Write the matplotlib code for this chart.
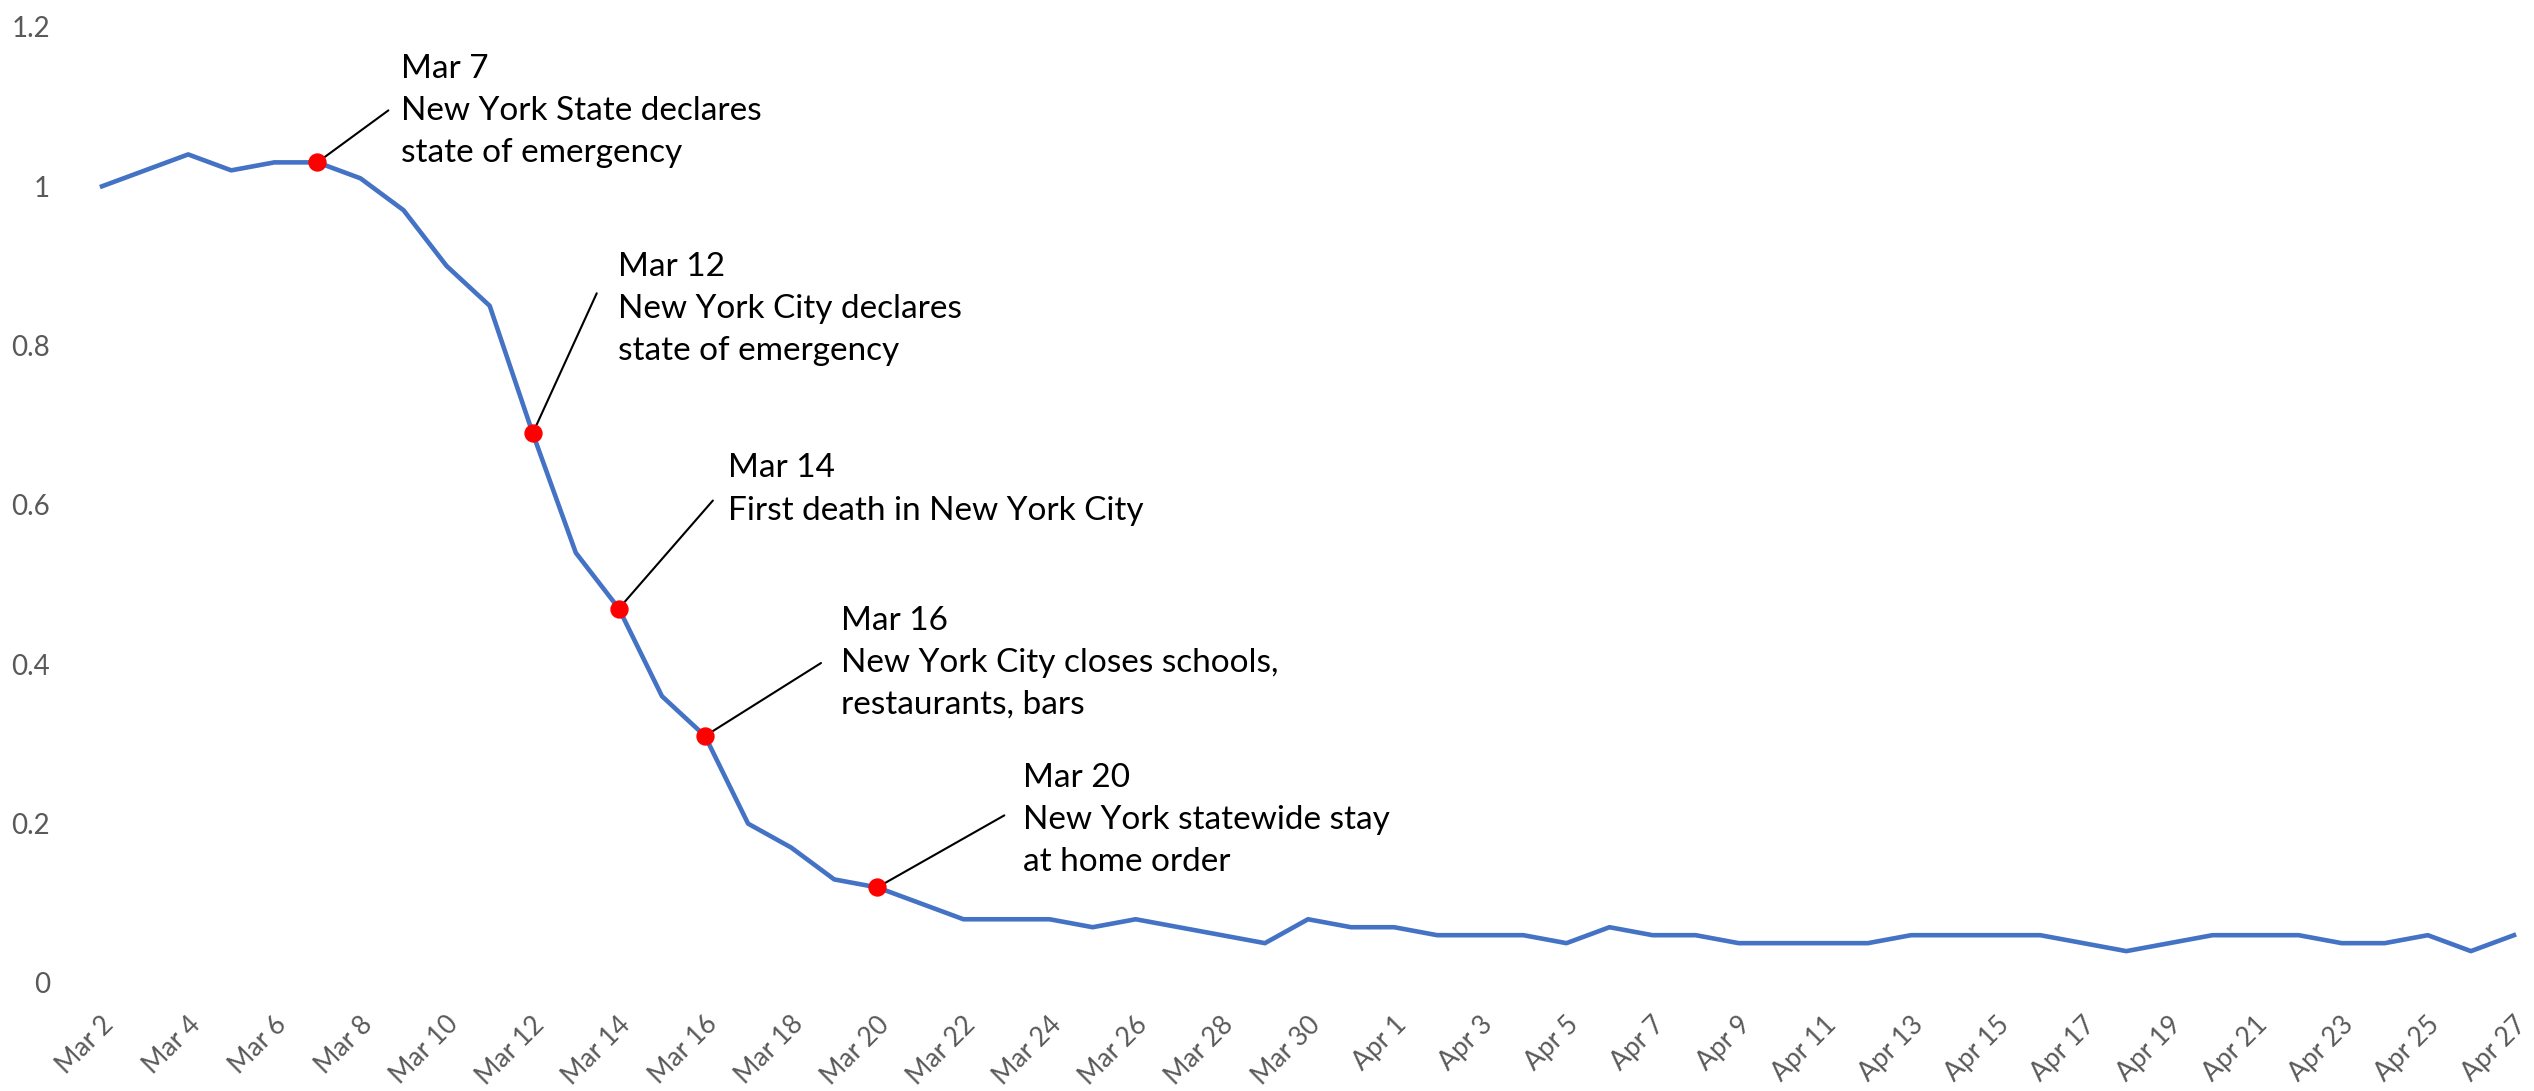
import pandas as pd
from matplotlib import pyplot as plt
from matplotlib.transforms import ScaledTranslation

days = pd.date_range("2020-03-02", "2020-04-27", freq="D")
day_labels = [f"{d:%b} {d.day}" for d in days]

ratio = [1.00, 1.02, 1.04, 1.02, 1.03, 1.03, 1.01, 0.97, 0.90, 0.85,
         0.69, 0.54, 0.47, 0.36, 0.31, 0.20, 0.17, 0.13, 0.12, 0.10,
         0.08, 0.08, 0.08, 0.07, 0.08, 0.07, 0.06, 0.05, 0.08, 0.07,
         0.07, 0.06, 0.06, 0.06, 0.05, 0.07, 0.06, 0.06, 0.05, 0.05,
         0.05, 0.05, 0.06, 0.06, 0.06, 0.06, 0.05, 0.04, 0.05, 0.06,
         0.06, 0.06, 0.05, 0.05, 0.06, 0.04, 0.06]

y_ticks = [0, 0.2, 0.4, 0.6, 0.8, 1.0, 1.2]
y_tick_labels = ["0", "0.2", "0.4", "0.6", "0.8", "1", "1.2"]

event_days = ["Mar 7", "Mar 12", "Mar 14", "Mar 16", "Mar 20"]
event_texts = [
    "New York State declares\nstate of emergency",
    "New York City declares\nstate of emergency",
    "First death in New York City",
    "New York City closes schools,\nrestaurants, bars",
    "New York statewide stay\nat home order",
]
# (text dx, first baseline dy, line dx, line dy) in pixels from the marker
event_offsets = [(84, 90, 71, 52), (85, 163, 64, 140), (109, 134, 94, 108),
                 (136, 112, 116, 73), (146, 106, 127, 72)]
line_pitch = 45  # px between text baselines

plt.rcParams["font.family"] = ["Lato", "DejaVu Sans"]

fig = plt.figure(figsize=(25.34, 10.91), dpi=100)
ax = fig.add_axes([80.5 / 2534, 0.099, 2455 / 2534, 0.8763])

x = list(range(len(ratio)))
ax.plot(x, ratio, color="#4472C4", lw=3.3, solid_joinstyle="round", zorder=2)

for name, txt, (tdx, tdy, ldx, ldy) in zip(event_days, event_texts, event_offsets):
    i = day_labels.index(name)
    label = name + "\n" + txt
    n = label.count("\n")
    ax.annotate("", xy=(i, ratio[i]), xytext=(ldx, ldy), textcoords="offset pixels",
                arrowprops=dict(arrowstyle="-", color="black", lw=1.5,
                                shrinkA=0, shrinkB=0))
    ax.plot(i, ratio[i], "o", color="#FF0000", ms=12.2, zorder=4)
    # baseline alignment goes to the last line, so step down from the first
    ax.annotate(label, xy=(i, ratio[i]), xytext=(tdx, tdy - n * line_pitch),
                textcoords="offset pixels", ha="left", va="baseline",
                fontsize=24, color="black", linespacing=1.51)

ax.set_xlim(-0.5, len(ratio) - 0.5)
ax.set_ylim(0, 1.2)
ax.set_yticks(y_ticks, y_tick_labels)
ax.set_xticks(x[::2], day_labels[::2])
ax.tick_params(axis="y", length=0, pad=22, labelsize=20, labelcolor="#595959")
ax.tick_params(axis="x", length=0, pad=27, labelsize=19, labelcolor="#595959")
shift = ScaledTranslation(8 / 100, 0, fig.dpi_scale_trans)
for lab in ax.get_xticklabels():
    lab.set_rotation(45)
    lab.set_ha("right")
    lab.set_va("center")
    lab.set_rotation_mode("anchor")
    lab.set_transform(lab.get_transform() + shift)
for s in ax.spines.values():
    s.set_visible(False)

fig.savefig("out.png", dpi=100)
